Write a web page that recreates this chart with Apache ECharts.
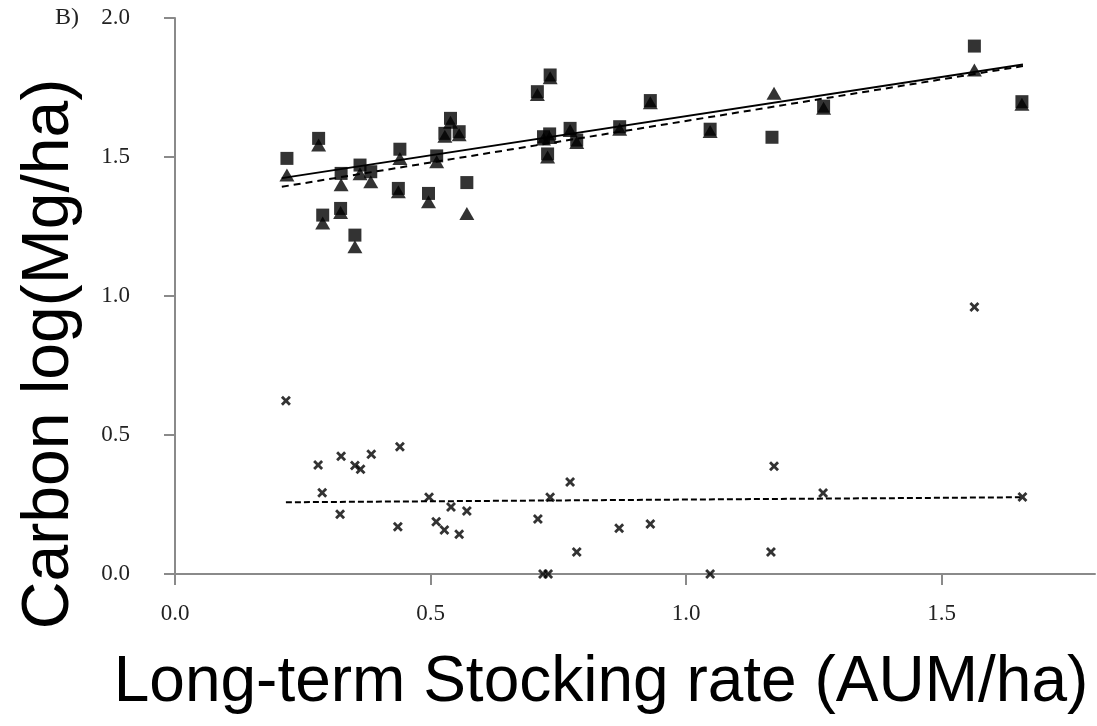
<!DOCTYPE html>
<html>
<head>
<meta charset="utf-8">
<script src="https://cdn.jsdelivr.net/npm/echarts@6/dist/echarts.min.js"></script>
<style>
html,body{margin:0;padding:0;background:#fff;}
#chart{width:1097px;height:726px;}
</style>
</head>
<body>
<div id="chart"></div>
<script>
// Squares (■)
const squareX = [0.219,0.281,0.289,0.324,0.325,0.352,0.362,0.383,0.437,0.440,0.496,0.512,0.528,0.539,0.556,0.571,0.709,0.721,0.729,0.733,0.734,0.773,0.786,0.870,0.930,1.047,1.168,1.269,1.564,1.657];
const squareY = [1.495,1.567,1.291,1.315,1.441,1.219,1.471,1.447,1.387,1.528,1.369,1.504,1.585,1.639,1.591,1.408,1.735,1.573,1.511,1.583,1.795,1.603,1.561,1.609,1.703,1.600,1.571,1.683,1.899,1.699];
// Triangles (▲)
const triX = [0.219,0.281,0.289,0.324,0.325,0.352,0.362,0.383,0.437,0.440,0.496,0.512,0.528,0.539,0.556,0.571,0.709,0.721,0.729,0.733,0.734,0.773,0.786,0.870,0.930,1.047,1.172,1.269,1.564,1.657];
const triY = [1.435,1.543,1.263,1.300,1.400,1.177,1.440,1.411,1.375,1.495,1.339,1.483,1.575,1.625,1.580,1.297,1.725,1.565,1.500,1.570,1.785,1.595,1.552,1.600,1.695,1.592,1.729,1.675,1.813,1.690];
// Crosses (×)
const crossX = [0.217,0.280,0.288,0.323,0.325,0.352,0.363,0.384,0.436,0.440,0.497,0.511,0.527,0.540,0.556,0.571,0.710,0.720,0.730,0.734,0.773,0.786,0.869,0.930,1.047,1.166,1.172,1.268,1.564,1.658];
const crossY = [0.623,0.392,0.292,0.215,0.424,0.390,0.377,0.431,0.170,0.458,0.276,0.188,0.158,0.241,0.143,0.227,0.198,0.000,0.000,0.276,0.331,0.079,0.165,0.180,0.000,0.079,0.388,0.291,0.960,0.277];
// Trend lines (end points)
const trendSquareX = [0.209,1.659], trendSquareY = [1.424,1.833];
const trendTriX = [0.209,1.659], trendTriY = [1.393,1.827];
const trendCrossX = [0.217,1.654], trendCrossY = [0.258,0.276];
// Axis ticks
const xTicks = [0,0.5,1.0,1.5];
const yTicks = [0,0.5,1.0,1.5,2.0];

const zip = (a,b) => a.map((v,i)=>[v,b[i]]);
const crossPath = 'path://M0,2 L2,0 L5,3 L8,0 L10,2 L7,5 L10,8 L8,10 L5,7 L2,10 L0,8 L3,5 Z';
const serif = '"Liberation Serif","Times New Roman",serif';
const sans = '"Liberation Sans",Arial,sans-serif';
const axisGray = '#8a8a8a';

const chart = echarts.init(document.getElementById('chart'));
chart.setOption({
  animation:false,
  backgroundColor:'#fff',
  grid:{left:175,right:2,top:18,bottom:152,containLabel:false},
  xAxis:{
    type:'value',min:0,max:1.8,interval:0.5,
    splitLine:{show:false},
    axisLine:{lineStyle:{color:axisGray,width:2}},
    axisTick:{show:true,length:11,lineStyle:{color:axisGray,width:2},customValues:xTicks},
    axisLabel:{customValues:xTicks,margin:28,fontFamily:serif,fontSize:23,color:'#222',formatter:v=>v.toFixed(1)}
  },
  yAxis:{
    type:'value',min:0,max:2,interval:0.5,
    splitLine:{show:false},
    axisLine:{show:true,lineStyle:{color:axisGray,width:2}},
    axisTick:{show:true,length:11,lineStyle:{color:axisGray,width:2},customValues:yTicks},
    axisLabel:{customValues:yTicks,margin:45,fontFamily:serif,fontSize:23,color:'#222',formatter:v=>v.toFixed(1)}
  },
  graphic:[
    {type:'text',left:55,top:6,style:{text:'B)',font:'24px '+serif,fill:'#222'}},
    {type:'text',x:50,y:354,rotation:Math.PI/2,style:{text:'Carbon log(Mg/ha)',font:'66px '+sans,fill:'#000',align:'center',verticalAlign:'middle'}},
    {type:'text',x:601,y:683,style:{text:'Long-term Stocking rate (AUM/ha)',font:'64px '+sans,fill:'#000',align:'center',verticalAlign:'middle'}}
  ],
  series:[
    {type:'scatter',name:'tri',data:zip(triX,triY),symbol:'triangle',symbolSize:[15,13],itemStyle:{color:'#000'},z:2},
    {type:'scatter',name:'sq',data:zip(squareX,squareY),symbol:'rect',symbolSize:13,itemStyle:{color:'#000'},z:3},
    {type:'scatter',name:'cross',data:zip(crossX,crossY),symbol:crossPath,symbolSize:10,itemStyle:{color:'#000'},z:3},
    {type:'line',data:zip(trendSquareX,trendSquareY),symbol:'none',lineStyle:{color:'#000',width:2,type:'solid'},z:4},
    {type:'line',data:zip(trendTriX,trendTriY),symbol:'none',lineStyle:{color:'#000',width:2,type:[7,5]},z:4},
    {type:'line',data:zip(trendCrossX,trendCrossY),symbol:'none',lineStyle:{color:'#000',width:2,type:[6,3]},z:4}
  ]
});
</script>
</body>
</html>
